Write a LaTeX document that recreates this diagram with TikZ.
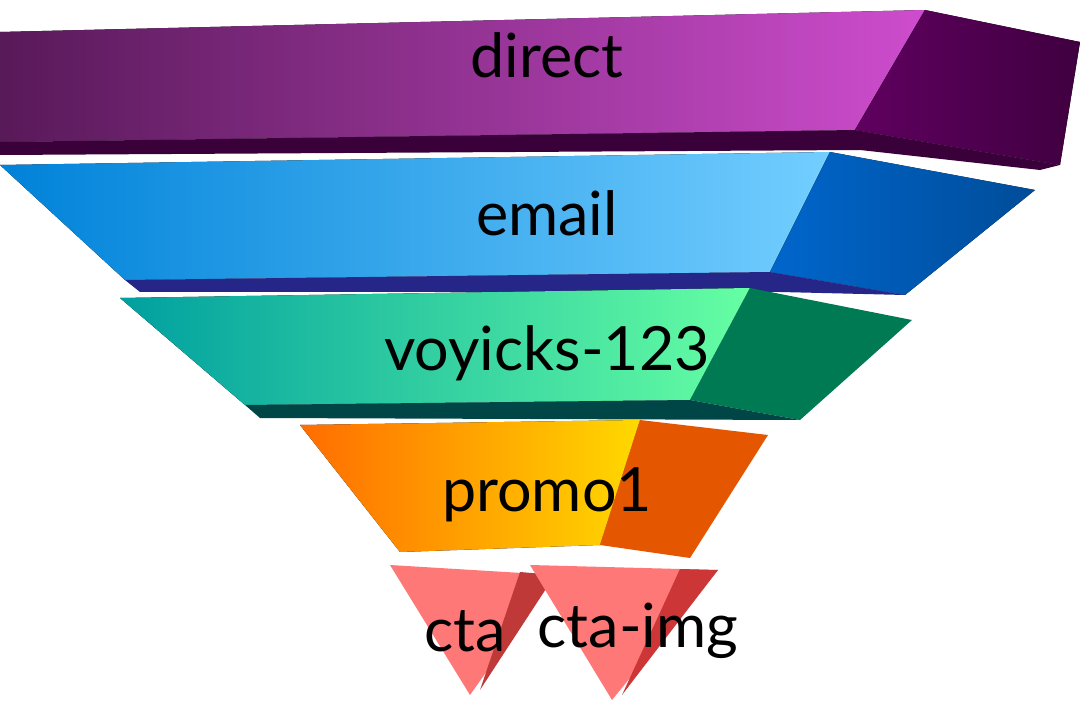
\documentclass[tikz,border=0pt]{standalone}
\usepackage{fontspec}
\setmainfont{Lato}
\begin{document}
\begin{tikzpicture}[x=1pt,y=-1pt,
  lbl/.style={font=\fontsize{61}{64}\selectfont, text=black, inner sep=0pt}]
\useasboundingbox (0,0) rectangle (1080,711);
\fill[white] (0,0) rectangle (1080,711);
% direct
\fill[left color=violet!55!black!90, right color=magenta!45!violet!70] (0,32) -- (925,10) -- (855,130) -- (0,142) -- cycle;
\fill[left color=violet!75!black, right color=violet!50!black] (925,10) -- (1080,42) -- (1060,165) -- (855,130) -- cycle;
\fill[violet!45!black] (0,142) -- (855,130) -- (1060,165) -- (1040,170) -- (860,150) -- (0,155) -- cycle;
% email
\fill[left color=blue!40!cyan!85!black, right color=cyan!65!blue!55] (0,165) -- (830,152) -- (770,272) -- (125,280) -- cycle;
\fill[left color=cyan!50!blue!80!black, right color=blue!50!cyan!60!black] (830,152) -- (1035,190) -- (905,295) -- (770,272) -- cycle;
\fill[blue!45!black!85] (125,280) -- (770,272) -- (905,295) -- (780,292) -- (140,292) -- cycle;
% voyicks
\fill[left color=teal!75!cyan, right color=cyan!40!green!60] (120,298) -- (750,288) -- (690,400) -- (245,405) -- cycle;
\fill[teal!80!green!80!black] (750,288) -- (912,320) -- (800,420) -- (690,400) -- cycle;
\fill[teal!55!black] (245,405) -- (690,400) -- (800,420) -- (260,418) -- cycle;
% promo1
\fill[left color=orange!85!red, right color=yellow!70!orange] (300,425) -- (640,420) -- (600,545) -- (400,552) -- cycle;
\fill[orange!75!red!90!black] (640,420) -- (768,435) -- (690,558) -- (600,545) -- cycle;
% cta
\fill[red!50!pink!85] (390,565) -- (555,575) -- (470,695) -- cycle;
\fill[red!60!pink!75!black] (520,572) -- (555,575) -- (480,690) -- cycle;
\fill[red!50!pink!85] (530,565) -- (718,570) -- (612,700) -- cycle;
\fill[red!65!pink!80!black] (680,569) -- (718,570) -- (622,695) -- cycle;
% labels
\node[lbl] (direct) at (547,55) {direct};
\node[lbl] (email) at (547,213) {email};
\node[lbl] (voy) at (547,353) {voyicks-123};
\node[lbl] (promo) at (547,495) {promo1};
\node[lbl] (cta) at (465,631) {cta};
\node[lbl] (ctaimg) at (638,631) {cta-img};
\end{tikzpicture}
\end{document}
